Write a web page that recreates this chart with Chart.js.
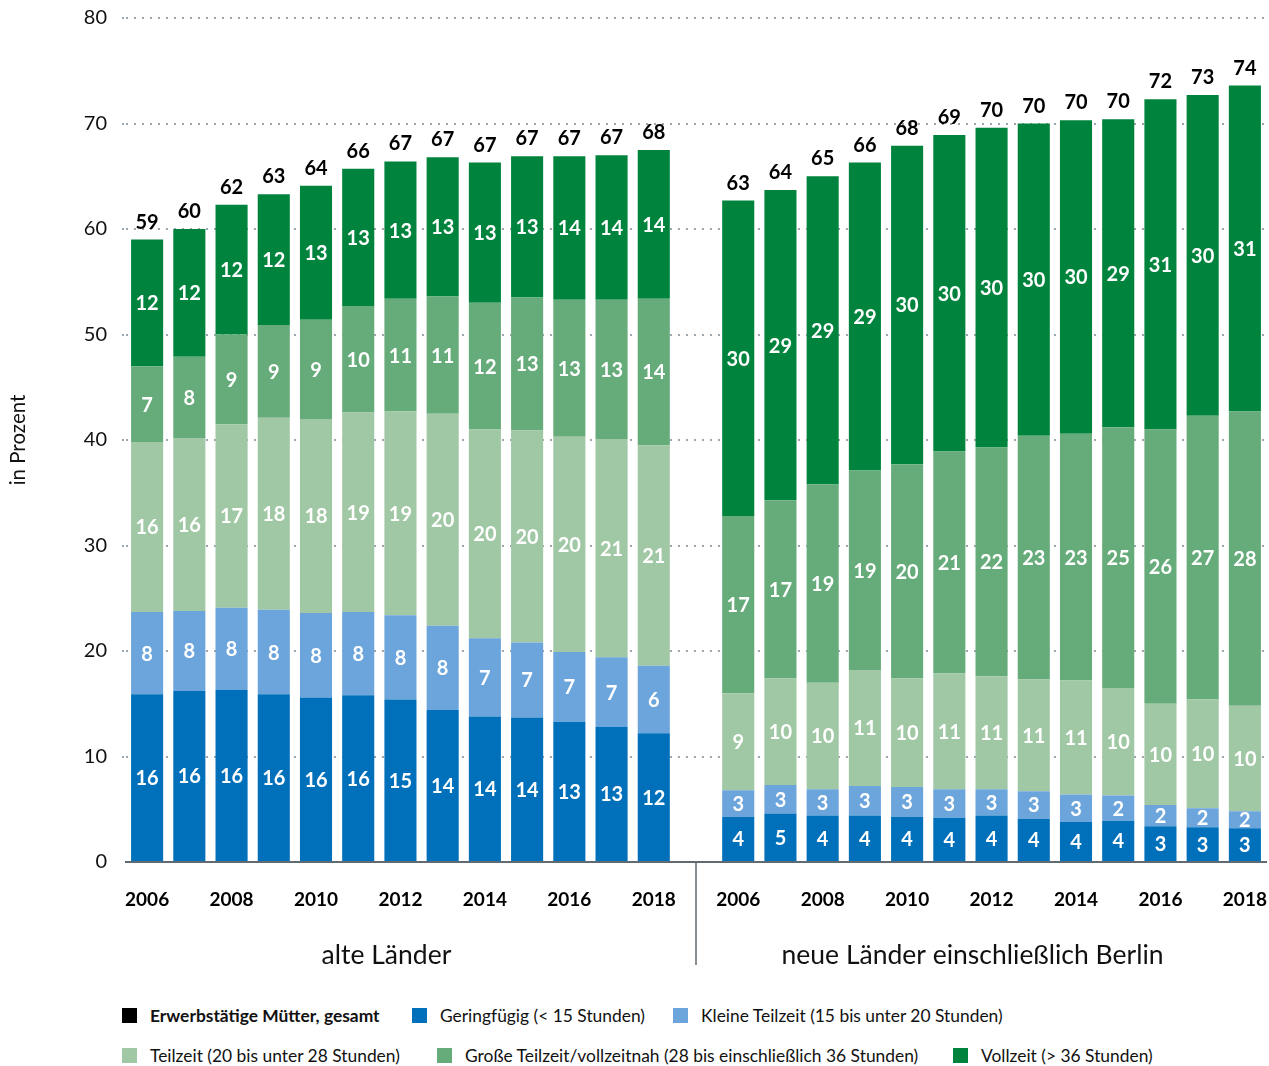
<!DOCTYPE html>
<html lang="de">
<head>
<meta charset="utf-8">
<title>Erwerbstätige Mütter</title>
<script src="https://cdn.jsdelivr.net/npm/chart.js@4.4.1/dist/chart.umd.min.js"></script>
<style>
    html, body { margin: 0; padding: 0; background: #fff; }
    body { width: 1269px; height: 1066px; position: relative; overflow: hidden; font-family: Lato, "Noto Sans", sans-serif; color: #111; }
    #rahmen { position: absolute; left: 0; top: 0; width: 1269px; height: 980px; }
    .eintrag { position: absolute; display: flex; align-items: center; font-size: 17.4px; white-space: nowrap; }
    .eintrag .kasten { width: 15px; height: 15px; margin-right: 13px; }
    .eintrag.fett { font-weight: bold; }
</style>
</head>
<body>
<div id="rahmen"><canvas id="grafico"></canvas></div>
<div id="legende"></div>
<script>
const jahre = ["2006", "2007", "2008", "2009", "2010", "2011", "2012", "2013", "2014", "2015", "2016", "2017", "2018"];
const gruppen = ["alte Länder", "neue Länder einschließlich Berlin"];

// Werte in Prozent, links alte Länder, rechts neue Länder
const geringfuegigAlt = [15.9, 16.2, 16.3, 15.9, 15.6, 15.8, 15.4, 14.4, 13.8, 13.7, 13.3, 12.8, 12.2];
const geringfuegigNeu = [4.3, 4.6, 4.4, 4.4, 4.3, 4.2, 4.4, 4.1, 3.8, 3.9, 3.4, 3.3, 3.2];

const kleineAlt = [7.8, 7.6, 7.8, 8.0, 8.0, 7.9, 8.0, 8.0, 7.4, 7.1, 6.6, 6.6, 6.4];
const kleineNeu = [2.5, 2.7, 2.5, 2.8, 2.8, 2.7, 2.5, 2.6, 2.6, 2.4, 2.0, 1.8, 1.6];

const teilzeitAlt = [16.1, 16.4, 17.4, 18.2, 18.4, 18.9, 19.3, 20.1, 19.8, 20.1, 20.4, 20.7, 20.9];
const teilzeitNeu = [9.2, 10.1, 10.1, 11.0, 10.3, 11.0, 10.7, 10.6, 10.8, 10.2, 9.6, 10.3, 10.0];

const grosseAlt = [7.2, 7.7, 8.5, 8.8, 9.4, 10.1, 10.7, 11.1, 12.0, 12.6, 13.0, 13.2, 13.9];
const grosseNeu = [16.8, 16.9, 18.8, 18.9, 20.3, 21.0, 21.7, 23.1, 23.4, 24.7, 26.0, 26.9, 27.9];

const vollzeitAlt = [12.0, 12.1, 12.3, 12.4, 12.7, 13.0, 13.0, 13.2, 13.3, 13.4, 13.6, 13.7, 14.1];
const vollzeitNeu = [29.9, 29.4, 29.2, 29.2, 30.2, 30.0, 30.3, 29.6, 29.7, 29.2, 31.3, 30.4, 30.9];

const gesamtAlt = [59, 60, 62, 63, 64, 66, 67, 67, 67, 67, 67, 67, 68];
const gesamtNeu = [63, 64, 65, 66, 68, 69, 70, 70, 70, 70, 72, 73, 74];

const yMin = 0;
const yMax = 80;
const yStep = 10;

const serien = [
    { name: "Geringfügig (< 15 Stunden)", farbe: "#0070ba", alt: geringfuegigAlt, neu: geringfuegigNeu },
    { name: "Kleine Teilzeit (15 bis unter 20 Stunden)", farbe: "#6ca5db", alt: kleineAlt, neu: kleineNeu },
    { name: "Teilzeit (20 bis unter 28 Stunden)", farbe: "#a0c8a4", alt: teilzeitAlt, neu: teilzeitNeu },
    { name: "Große Teilzeit/vollzeitnah (28 bis einschließlich 36 Stunden)", farbe: "#66ab7a", alt: grosseAlt, neu: grosseNeu },
    { name: "Vollzeit (> 36 Stunden)", farbe: "#00843d", alt: vollzeitAlt, neu: vollzeitNeu }
];

// eine leere Kategorie trennt die beiden Gruppen
const kategorien = [...jahre, "", ...jahre];
const gesamt = [...gesamtAlt, null, ...gesamtNeu];
const schrift = "Lato, 'Noto Sans', sans-serif";
const gitterFarbe = "#9aa6b0";

const beschriftung = {
    id: "beschriftung",
    afterDatasetsDraw(chart) {
        const ctx = chart.ctx;
        ctx.save();
        ctx.textAlign = "center";
        ctx.textBaseline = "middle";
        ctx.font = "bold 20px " + schrift;
        ctx.fillStyle = "#ffffff";

        chart.data.datasets.forEach((datensatz, i) => {
            chart.getDatasetMeta(i).data.forEach((balken, j) => {
                const wert = datensatz.data[j];
                if (wert == null) return;
                ctx.fillText(Math.round(wert), balken.x, (balken.y + balken.base) / 2 + 1);
            });
        });

        const oben = chart.getDatasetMeta(chart.data.datasets.length - 1);
        ctx.fillStyle = "#000000";
        ctx.textBaseline = "alphabetic";
        oben.data.forEach((balken, j) => {
            if (gesamt[j] == null) return;
            ctx.fillText(gesamt[j], balken.x, balken.y - 11);
        });
        ctx.restore();
    },
    afterDraw(chart) {
        const ctx = chart.ctx;
        const x = chart.scales.x;
        const unten = chart.chartArea.bottom;
        const trenner = x.getPixelForValue(jahre.length);

        ctx.save();
        ctx.strokeStyle = "#5f6a72";
        ctx.lineWidth = 1.5;
        ctx.beginPath();
        ctx.moveTo(trenner, unten);
        ctx.lineTo(trenner, unten + 103);
        ctx.stroke();

        ctx.font = "26.5px " + schrift;
        ctx.fillStyle = "#111111";
        ctx.textAlign = "center";
        ctx.textBaseline = "middle";
        const mitteAlt = (x.getPixelForValue(0) + x.getPixelForValue(jahre.length - 1)) / 2;
        const mitteNeu = (x.getPixelForValue(jahre.length + 1) + x.getPixelForValue(2 * jahre.length)) / 2;
        ctx.fillText(gruppen[0], mitteAlt - 14, unten + 93);
        ctx.fillText(gruppen[1], mitteNeu - 19, unten + 93);
        ctx.restore();
    }
};

new Chart(document.getElementById("grafico"), {
    type: "bar",
    data: {
        labels: kategorien,
        datasets: serien.map(serie => ({
            label: serie.name,
            data: [...serie.alt, null, ...serie.neu],
            backgroundColor: serie.farbe,
            borderWidth: 0,
            barPercentage: 0.76,
            categoryPercentage: 1
        }))
    },
    options: {
        responsive: true,
        maintainAspectRatio: false,
        animation: false,
        layout: {
            padding: { top: 18, right: 3, bottom: 0, left: 0 }
        },
        plugins: {
            legend: { display: false },
            tooltip: { enabled: false }
        },
        scales: {
            x: {
                stacked: true,
                grid: { display: false, drawTicks: false },
                border: { display: true, color: "#5f6a72", width: 2 },
                ticks: {
                    autoSkip: false,
                    maxRotation: 0,
                    padding: 26,
                    color: "#000000",
                    font: { family: schrift, size: 19, weight: "bold" },
                    callback: function (wert) {
                        const l = this.getLabelForValue(wert);
                        return l !== "" && Number(l) % 2 === 0 ? l : "";
                    }
                },
                afterFit(scale) {
                    scale.height = 118;
                    scale.paddingLeft = 0;
                    scale.paddingRight = 0;
                }
            },
            y: {
                stacked: true,
                min: yMin,
                max: yMax,
                border: { display: false, dash: [2, 6] },
                grid: {
                    drawTicks: true,
                    tickLength: 4,
                    tickWidth: 2,
                    tickBorderDash: [2, 6],
                    lineWidth: 2,
                    color: ctx => ctx.tick.value === 0 ? "rgba(0,0,0,0)" : gitterFarbe,
                    tickColor: ctx => ctx.tick.value === 0 ? "rgba(0,0,0,0)" : gitterFarbe
                },
                ticks: {
                    stepSize: yStep,
                    padding: 15,
                    color: "#111111",
                    font: { family: schrift, size: 20 }
                },
                title: {
                    display: true,
                    text: "in Prozent",
                    color: "#111111",
                    padding: { top: 6, bottom: 0 },
                    font: { family: schrift, size: 20.5 }
                },
                afterFit(scale) {
                    scale.width = 126;
                    scale.paddingTop = 0;
                    scale.paddingBottom = 0;
                }
            }
        }
    },
    plugins: [beschriftung]
});

// Legende
const legende = [
    { name: "Erwerbstätige Mütter, gesamt", farbe: "#000000", x: 122, y: 1015, fett: true },
    { name: serien[0].name, farbe: serien[0].farbe, x: 412, y: 1015 },
    { name: serien[1].name, farbe: serien[1].farbe, x: 673, y: 1015 },
    { name: serien[2].name, farbe: serien[2].farbe, x: 122, y: 1055 },
    { name: serien[3].name, farbe: serien[3].farbe, x: 437, y: 1055 },
    { name: serien[4].name, farbe: serien[4].farbe, x: 953, y: 1055 }
];

const legendeBox = document.getElementById("legende");
legende.forEach(eintrag => {
    const div = document.createElement("div");
    div.className = "eintrag" + (eintrag.fett ? " fett" : "");
    div.style.left = eintrag.x + "px";
    div.style.top = (eintrag.y - 12) + "px";
    div.style.height = "24px";

    const kasten = document.createElement("span");
    kasten.className = "kasten";
    kasten.style.background = eintrag.farbe;

    const text = document.createElement("span");
    text.textContent = eintrag.name;

    div.appendChild(kasten);
    div.appendChild(text);
    legendeBox.appendChild(div);
});
</script>
</body>
</html>
